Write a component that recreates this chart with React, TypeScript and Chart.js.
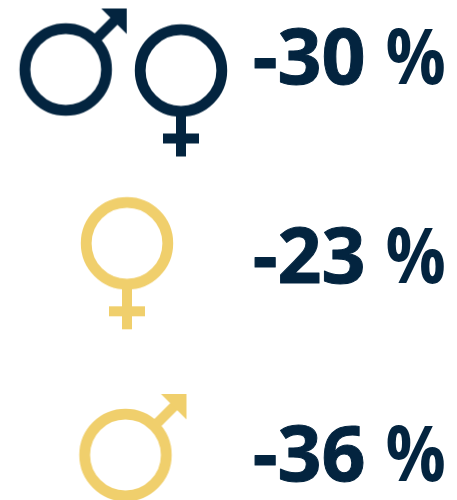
import React, { useEffect, useRef } from "react";
import { Chart, registerables } from "chart.js";

Chart.register(...registerables);

const NAVY = "#03243f";
const GOLD = "#f0cf6c";

// Each row of the infographic: change (%), text colour and position
const rowValues = [-30, -23, -36];
const rowColors = [NAVY, NAVY, NAVY];
const rowTextX = [252.7, 252.7, 252.7];
const rowUnitX = [385.5, 385.5, 385.5];
const rowBaseline = [84, 283, 480.5];

// Symbols, placed in picture units by their ring's centre
const symbolKinds = ["male", "female", "female", "male"];
const symbolX = [65.7, 181, 127, 125.5];
const symbolY = [69.5, 70.5, 243.3, 455];
const symbolColors = [NAVY, NAVY, GOLD, GOLD];

function makeSymbol(kind: string, color: string): HTMLCanvasElement {
  const half = 110;
  const c = document.createElement("canvas");
  c.width = half * 2;
  c.height = half * 2;
  const g = c.getContext("2d")!;
  g.translate(half, half);
  g.strokeStyle = color;
  g.fillStyle = color;
  g.lineWidth = 10.8;
  g.beginPath();
  g.arc(0, 0, 40.8, 0, Math.PI * 2);
  g.stroke();
  if (kind === "female") {
    g.fillRect(-5, 44, 10, 42);
    g.fillRect(-18, 63, 36, 10);
  } else {
    g.save();
    g.rotate(-Math.PI / 4);
    g.fillRect(42, -5, 30, 10);
    g.restore();
    g.beginPath();
    g.moveTo(61, -61);
    g.lineTo(35.5, -61);
    g.lineTo(61, -35.5);
    g.closePath();
    g.fill();
  }
  return c;
}

const labelsPlugin = {
  id: "rowLabels",
  afterDatasetsDraw(chart: any) {
    const { ctx, scales } = chart;
    const put = (text: string, size: number, x: number, y: number, color: string, sy: number, weight: number) => {
      ctx.save();
      ctx.font = `bold ${size}px "Open Sans"`;
      ctx.textAlign = "left";
      ctx.textBaseline = "alphabetic";
      ctx.fillStyle = color;
      ctx.strokeStyle = color;
      ctx.lineWidth = weight;
      ctx.lineJoin = "round";
      ctx.translate(scales.x.getPixelForValue(x), scales.y.getPixelForValue(y));
      ctx.scale(1, sy);
      ctx.fillText(text, 0, 0);
      if (weight > 0) ctx.strokeText(text, 0, 0);
      ctx.restore();
    };
    rowValues.forEach((v, i) => {
      put(`${v}`, 77, rowTextX[i], rowBaseline[i], rowColors[i], 1.0, 1);
      put("%", 67, rowUnitX[i], rowBaseline[i], rowColors[i], 1.16, 0);
    });
  },
};

export default function App() {
  const ref = useRef<HTMLCanvasElement>(null);
  useEffect(() => {
    document.body.style.margin = "0";
    const chart = new Chart(ref.current!, {
      type: "scatter",
      data: {
        datasets: [
          {
            data: symbolX.map((x, i) => ({ x, y: symbolY[i] })),
            pointStyle: symbolKinds.map((k, i) => makeSymbol(k, symbolColors[i])),
            clip: false,
          } as any,
        ],
      },
      options: {
        animation: false,
        responsive: false,
        layout: { padding: 0, autoPadding: false },
        plugins: { legend: { display: false }, tooltip: { enabled: false }, title: { display: false } },
        scales: {
          x: { type: "linear", min: 0, max: 457, display: false },
          y: { type: "linear", min: 0, max: 500, reverse: true, display: false },
        },
      },
      plugins: [labelsPlugin],
    });
    return () => chart.destroy();
  }, []);
  return <canvas ref={ref} width={457} height={500} style={{ display: "block" }} />;
}
